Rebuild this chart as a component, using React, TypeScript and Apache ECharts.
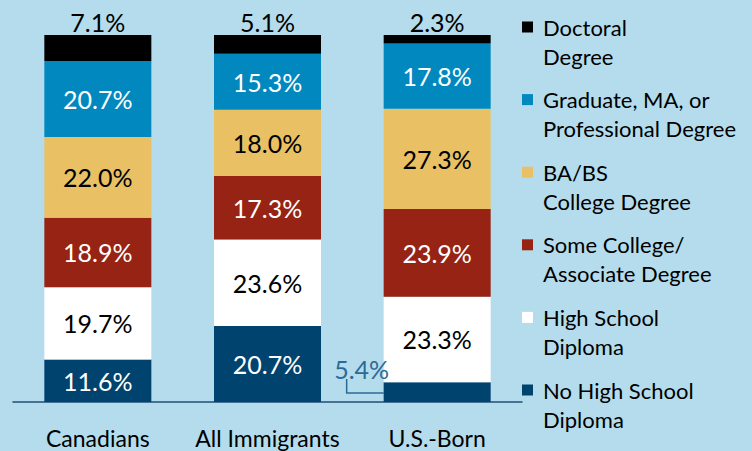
import React, { useEffect, useRef } from "react";
import * as echarts from "echarts";

const categories = ["Canadians", "All Immigrants", "U.S.-Born"];
const seriesNames = [
  "No High School\nDiploma",
  "High School\nDiploma",
  "Some College/\nAssociate Degree",
  "BA/BS\nCollege Degree",
  "Graduate, MA, or\nProfessional Degree",
  "Doctoral\nDegree",
];
const noHighSchool = [11.6, 20.7, 5.4];
const highSchool = [19.7, 23.6, 23.3];
const someCollege = [18.9, 17.3, 23.9];
const baBs = [22.0, 18.0, 27.3];
const graduate = [20.7, 15.3, 17.8];
const doctoral = [7.1, 5.1, 2.3];

const seriesValues = [noHighSchool, highSchool, someCollege, baBs, graduate, doctoral];
const colors = ["#00436f", "#ffffff", "#962313", "#e9c064", "#0088bf", "#000000"];
const labelColors = ["#ffffff", "#000000", "#ffffff", "#000000", "#ffffff", "#000000"];
const calloutColor = "#2c6a96";
const FONT = "Lato, 'Noto Sans', sans-serif";
const BAR_WIDTH = 107;
const CALLOUT_CATEGORY = 2;

export default function App() {
  const ref = useRef<HTMLDivElement>(null);
  useEffect(() => {
    if (!ref.current) return;
    const chart = echarts.init(ref.current, undefined, { renderer: "svg" });
    const series = seriesValues.map((vals, i) => {
      const isTop = i === seriesValues.length - 1;
      const isBottom = i === 0;
      return {
        name: seriesNames[i],
        type: "bar",
        stack: "total",
        barWidth: BAR_WIDTH,
        itemStyle: { color: colors[i] },
        label: {
          show: true,
          position: isTop ? "top" : "inside",
          distance: 1,
          color: labelColors[i],
          fontSize: 25,
          fontFamily: FONT,
          formatter: (p: any) => Number(p.value).toFixed(1) + "%",
        },
        labelLayout: isBottom
          ? (params: any) => {
              if (params.dataIndex !== CALLOUT_CATEGORY) return {};
              const r = params.rect;
              const cy = r.y + r.height / 2;
              return {
                x: r.x - 22,
                y: cy - 23,
                align: "center",
                verticalAlign: "middle",
              };
            }
          : undefined,
        data: vals.map((v, j) =>
          isBottom && j === CALLOUT_CATEGORY
            ? { value: v, label: { color: calloutColor } }
            : v
        ),
      };
    });
    chart.setOption({
      animation: false,
      backgroundColor: "#b4dcec",
      grid: { left: 13, right: 230, top: 35, bottom: 49 },
      legend: {
        orient: "vertical",
        left: 522,
        top: -16.5,
        padding: 0,
        itemWidth: 11,
        itemHeight: 11,
        itemGap: -14.4,
        icon: "rect",
        data: [...seriesNames].reverse(),
        formatter: (name: string) => "\n" + name,
        textStyle: {
          fontSize: 22,
          lineHeight: 29,
          color: "#000",
          fontFamily: FONT,
          padding: [0, 0, 0, 5],
        },
      },
      xAxis: {
        type: "category",
        data: categories,
        axisLine: { lineStyle: { color: "#1f4e79", width: 1.5 } },
        axisTick: { show: false },
        axisLabel: {
          color: "#000",
          fontSize: 23,
          margin: 24,
          fontFamily: FONT,
          interval: 0,
          hideOverlap: false,
        },
      },
      yAxis: { type: "value", min: 0, max: 100, show: false },
      series,
    });

    // callout bracket for the small U.S.-Born "No High School" segment
    const v = noHighSchool[CALLOUT_CATEGORY];
    const mid = chart.convertToPixel({ seriesIndex: 0 }, [CALLOUT_CATEGORY, v / 2]) as number[];
    if (mid) {
      const left = mid[0] - BAR_WIDTH / 2;
      const cy = mid[1];
      chart.setOption({
        graphic: [
          {
            type: "polyline",
            silent: true,
            shape: {
              points: [
                [left - 37, cy - 13],
                [left - 37, cy + 1],
                [left, cy + 1],
              ],
            },
            style: { stroke: calloutColor, lineWidth: 1.5, fill: "none" },
          },
        ],
      });
    }
    return () => chart.dispose();
  }, []);
  return (
    <div
      ref={ref}
      style={{ position: "absolute", left: 0, top: 0, width: 752, height: 451 }}
    />
  );
}
